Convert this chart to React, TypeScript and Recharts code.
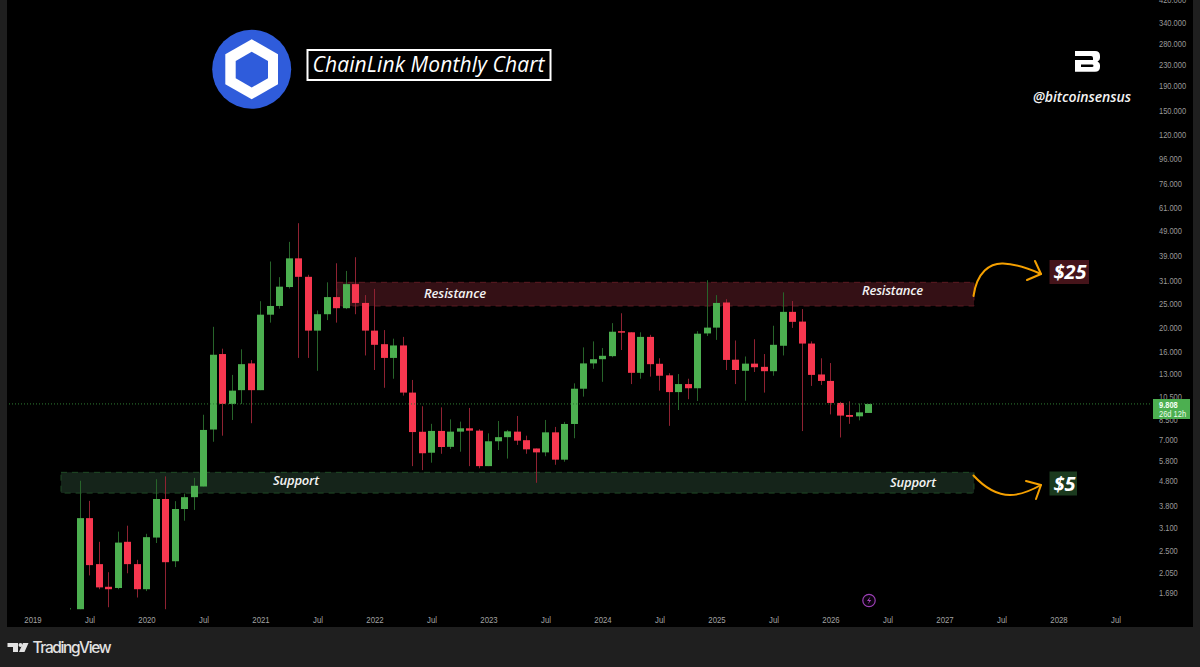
import { Bar, ComposedChart, ReferenceArea, ReferenceLine, XAxis, YAxis } from 'recharts';

// monthly candles, first one is May 2019 (month 4 counted from Jan 2019)
// May 2019 body sits below the visible price range, only its wick top shows
const firstMonth = 4;
const opens = [
  1.4, 1.45, 3.39, 2.21, 1.79, 1.77, 2.72, 2.21, 1.75, 2.83, 4.05, 2.27, 3.69, 4.12, 4.55, 7.73, 15.6, 9.81, 11.15, 14.3, 11.15, 22.5, 24.4, 29.1,
  38.0, 32.0, 19.4, 22.6, 26.5, 23.9, 29.9, 25.1, 19.4, 17.1, 15.05, 16.9, 10.9, 7.57, 6.23, 7.63, 6.58, 7.58, 7.82, 7.65,
  5.5, 6.93, 7.2, 7.58, 7.0, 6.48, 6.25, 7.53, 5.84, 8.14, 11.3, 14.3, 14.87, 15.3, 19.3, 19.1, 13.1, 18.3, 14.25, 12.8, 10.95, 11.8, 11.35, 18.9,
  19.95, 25.2, 14.8, 13.35, 14.27, 13.85, 13.3, 16.85, 23.1, 21.1, 17.2, 12.9, 12.15, 9.9, 8.85, 8.74, 9.02,
];
const highs = [
  1.47, 4.8, 3.98, 2.72, 2.05, 2.99, 3.16, 2.3, 2.93, 4.87, 5.0, 3.97, 4.26, 4.93, 8.87, 20.1, 16.4, 12.85, 16.3, 14.75, 25.5, 36.9, 31.9, 44.3,
  52.7, 32.6, 23.4, 30.4, 36.3, 33.8, 38.4, 27.0, 28.6, 19.5, 18.0, 18.3, 12.26, 9.6, 8.15, 9.5, 8.5, 8.32, 9.45, 7.75,
  7.46, 8.37, 7.7, 8.77, 7.3, 6.48, 8.45, 7.92, 8.3, 11.88, 16.6, 17.55, 16.5, 20.8, 22.8, 19.1, 19.1, 18.65, 15.0, 13.05, 12.95, 12.4, 19.3, 31.0,
  27.0, 26.0, 17.7, 15.25, 17.9, 15.6, 20.3, 27.7, 25.55, 23.7, 17.55, 15.0, 14.35, 10.0, 10.05, 9.85, 9.808,
];
const lows = [
  1.38, 1.45, 1.99, 1.75, 1.48, 1.75, 2.03, 1.62, 1.72, 2.69, 1.45, 2.15, 3.31, 3.66, 4.55, 6.9, 7.3, 8.45, 9.81, 8.2, 11.15, 20.9, 23.8, 28.7,
  15.05, 15.05, 13.35, 21.4, 20.9, 23.7, 22.6, 15.4, 13.45, 11.4, 12.4, 10.6, 5.5, 5.3, 5.68, 6.17, 6.45, 6.29, 5.5, 5.39,
  5.5, 6.39, 5.9, 6.7, 6.17, 4.71, 6.03, 5.57, 5.73, 7.13, 10.5, 13.6, 12.05, 15.15, 16.2, 11.8, 12.4, 12.65, 11.1, 8.0, 9.27, 10.25, 10.08, 18.45,
  17.8, 13.45, 11.8, 10.1, 13.2, 10.9, 12.75, 15.4, 19.9, 7.62, 11.6, 11.7, 8.9, 7.18, 8.15, 8.42, 9.02,
];
const closes = [
  1.43, 3.39, 2.19, 1.78, 1.75, 2.7, 2.21, 1.75, 2.84, 4.05, 2.25, 3.69, 4.12, 4.58, 7.7, 15.5, 9.81, 11.1, 14.2, 11.15, 22.5, 24.4, 29.2, 38.0,
  32.0, 19.4, 22.6, 26.5, 23.9, 29.9, 25.1, 19.4, 17.0, 15.05, 16.9, 10.9, 7.55, 6.2, 7.63, 6.57, 7.58, 7.82, 7.65, 5.5,
  6.93, 7.2, 7.6, 6.97, 6.43, 6.25, 7.53, 5.84, 8.14, 11.3, 14.3, 14.87, 15.35, 19.2, 19.1, 13.1, 18.3, 14.2, 12.75, 10.95, 11.8, 11.35, 18.85, 19.95,
  25.1, 14.77, 13.45, 14.27, 13.8, 13.3, 17.0, 23.1, 21.05, 17.2, 12.85, 12.15, 9.9, 8.8, 8.7, 9.07, 9.808,
];

const priceTicks = [420, 340, 280, 230, 190, 150, 120, 96, 76, 61, 49, 39, 31, 25, 20, 16, 13, 10.5, 8.5, 7, 5.8, 4.8, 3.8, 3.1, 2.5, 2.05, 1.69];
const timeTicks = [0, 6, 12, 18, 24, 30, 36, 42, 48, 54, 60, 66, 72, 78, 84, 90, 96, 102, 108, 114];
const timeLabels = ['2019', 'Jul', '2020', 'Jul', '2021', 'Jul', '2022', 'Jul', '2023', 'Jul', '2024', 'Jul', '2025', 'Jul', '2026', 'Jul', '2027', 'Jul', '2028', 'Jul'];
const lastPrice = 9.808;

const UP = '#4CAF50';
const DOWN = '#F7374F';
const UP_WICK = '#27642a';
const DOWN_WICK = '#8f2232';

const candles = opens.map((open, i) => ({
  month: firstMonth + i,
  open,
  high: highs[i],
  low: lows[i],
  close: closes[i],
  body: [Math.min(open, closes[i]), Math.max(open, closes[i])],
  wick: [lows[i], highs[i]],
}));

const WickShape = (props: any) => (
  <rect
    x={Math.round(props.x + props.width / 2 - 0.5)}
    y={props.y}
    width={1}
    height={props.height}
    fill={props.payload.close >= props.payload.open ? UP_WICK : DOWN_WICK}
  />
);

const BodyShape = (props: any) => (
  <rect
    x={Math.round(props.x)}
    y={props.y}
    width={7}
    height={Math.max(props.height, 1.5)}
    fill={props.payload.close >= props.payload.open ? UP : DOWN}
  />
);

// tradingview's axis font is narrower than anything installed, so squeeze it a bit
const squeezed = { fontFamily: '"Liberation Sans"', fontSize: 9.5 };

const PriceTick = ({ x, y, payload }: any) => (
  <text transform={`translate(${x} ${y + 3.3}) scale(0.79 1)`} textAnchor="start" fill="#9a9a9a" style={squeezed}>
    {payload.value.toFixed(3)}
  </text>
);

const TimeTick = ({ x, y, payload }: any) => (
  <text transform={`translate(${x} ${y + 7}) scale(0.82 1)`} textAnchor="middle" fill="#a3a3a3" style={squeezed}>
    {timeLabels[timeTicks.indexOf(payload.value)]}
  </text>
);

const noteStyle = { fontFamily: '"Open Sans"', fontStyle: 'italic', fontWeight: 600, fontSize: 13, fill: '#f2f2f2' };

function Overlay() {
  return (
    <svg width={1200} height={667} style={{ position: 'absolute', left: 0, top: 0, pointerEvents: 'none' }}>
      {/* logo */}
      <circle cx={251.7} cy={69.3} r={39.5} fill="#2f5cdb" />
      <polygon points="251.7,39.3 278,54.3 278,84.3 251.7,99.3 225.3,84.3 225.3,54.3" fill="#fff" />
      <polygon points="251.7,51.7 268,61 268,78.3 251.7,87.5 235.7,78.3 235.7,61" fill="#2f5cdb" />

      {/* title */}
      <rect x={307.5} y={50} width={243} height={30} fill="#000" stroke="#fff" strokeWidth={2} />
      <text x={312.5} y={72} textLength={232} style={{ fontFamily: '"Open Sans"', fontStyle: 'italic', fontSize: 21, fill: '#fff' }}>
        ChainLink Monthly Chart
      </text>

      {/* brand mark */}
      <path
        d="M1075 51 H1095 Q1100 51 1100 56 V58 Q1100 60.5 1097.5 61.5 Q1100 62.5 1100 65 V67 Q1100 71.7 1095 71.7 H1075 V60 H1093 V58 Q1093 56 1091 56 H1075 Z M1081 64.5 V67 H1092 Q1093.5 67 1093.5 65.7 Q1093.5 64.5 1092 64.5 Z"
        fill="#fff"
        fillRule="evenodd"
      />
      <text x={1033} y={102} textLength={98} style={{ fontFamily: '"Open Sans"', fontStyle: 'italic', fontWeight: 600, fontSize: 14, fill: '#f2f2f2' }}>
        @bitcoinsensus
      </text>

      {/* zone notes */}
      <text x={424} y={298} textLength={62} style={noteStyle}>Resistance</text>
      <text x={862} y={295} textLength={61} style={noteStyle}>Resistance</text>
      <text x={273} y={485} textLength={46} style={noteStyle}>Support</text>
      <text x={890} y={487} textLength={46} style={noteStyle}>Support</text>

      {/* arrows */}
      <g fill="none" stroke="#f5a000" strokeWidth={2} strokeLinecap="round" strokeLinejoin="round">
        <path d="M973.5 296 C977 272 990 263 1003 263.5 C1017 264 1030 269 1041 274" />
        <path d="M1035 261 L1041 274 L1027 280" />
        <path d="M973.5 475.5 C985 488 998 495 1010 495 C1022 495 1032 490 1041 485" />
        <path d="M1026 481 L1041 485 L1036 499" />
      </g>

      {/* price targets */}
      <rect x={1049.5} y={260} width={39.5} height={24} fill="#45141a" />
      <text x={1053.5} y={279} style={{ fontFamily: '"Open Sans"', fontStyle: 'italic', fontWeight: 700, fontSize: 20, fill: '#fff' }}>$25</text>
      <rect x={1049.5} y={471.5} width={27.5} height={24} fill="#1b3a1e" />
      <text x={1053.5} y={491} style={{ fontFamily: '"Open Sans"', fontStyle: 'italic', fontWeight: 700, fontSize: 20, fill: '#fff' }}>$5</text>

      {/* bolt marker */}
      <circle cx={869} cy={600.5} r={6.2} fill="#0c030f" stroke="#9c3fb5" strokeWidth={1.2} />
      <path d="M870.5 596.5 L867 601 H869.3 L867.8 604.5 L871.2 600 H869 Z" fill="#a848c0" />

      {/* last price tag */}
      <rect x={1153} y={399} width={37} height={20} fill="#4CAF50" />
      <text transform="translate(1159 407.8) scale(0.79 1)" fill="#f4fff4" fontWeight={700} style={squeezed}>9.808</text>
      <text transform="translate(1159 417) scale(0.79 1)" fill="#eafbea" style={squeezed}>26d 12h</text>

      {/* footer logo */}
      <path d="M7.5 643 H18 V652 H13 V647 H7.5 Z" fill="#e2e2e2" />
      <circle cx={20.5} cy={645} r={2} fill="#e2e2e2" />
      <path d="M23 643 H28.5 L24.5 652 H19 Z" fill="#e2e2e2" />
      <text x={32.5} y={653} textLength={79} style={{ fontFamily: 'Inter', fontWeight: 500, fontSize: 15.5, fill: '#e2e2e2' }}>
        TradingView
      </text>
    </svg>
  );
}

export default function App() {
  return (
    <div style={{ position: 'fixed', left: 0, top: 0, width: 1200, height: 667, background: '#1f1f1f', overflow: 'hidden' }}>
      <div style={{ position: 'absolute', left: 7, top: 0, width: 1186, height: 627, background: '#000' }} />
      <div style={{ position: 'absolute', left: 0, top: 0 }}>
        <ComposedChart width={1200} height={667} data={candles} margin={{ top: 0, right: 0, bottom: 42.5, left: 7 }}>
          <XAxis
            xAxisId="body"
            dataKey="month"
            type="number"
            domain={[-2.737, 117.58]}
            allowDataOverflow
            ticks={timeTicks}
            interval={0}
            axisLine={false}
            tickLine={false}
            height={15}
            tickMargin={0}
            tick={TimeTick}
          />
          <XAxis xAxisId="wick" dataKey="month" type="number" domain={[-2.737, 117.58]} allowDataOverflow hide />
          <YAxis
            yAxisId="price"
            orientation="right"
            scale="log"
            domain={[1.449, 420.3]}
            allowDataOverflow
            ticks={priceTicks}
            interval={0}
            axisLine={false}
            tickLine={false}
            width={50}
            tickMargin={3}
            tick={PriceTick}
          />
          <ReferenceArea xAxisId="body" yAxisId="price" x1={2.95} x2={99.05} y1={4.28} y2={5.19} fill="#15241a" fillOpacity={1} stroke="#1f4a25" strokeDasharray="6 5" />
          <ReferenceArea xAxisId="body" yAxisId="price" x1={32} x2={99.05} y1={24.4} y2={30.4} fill="#341015" fillOpacity={1} stroke="#5c1a22" strokeDasharray="6 5" />
          <ReferenceLine xAxisId="body" yAxisId="price" y={lastPrice} stroke="#2e7d32" strokeDasharray="1 2" />
          <Bar xAxisId="wick" yAxisId="price" dataKey="wick" barSize={7} shape={WickShape} isAnimationActive={false} />
          <Bar xAxisId="body" yAxisId="price" dataKey="body" barSize={7} shape={BodyShape} isAnimationActive={false} />
        </ComposedChart>
      </div>
      <Overlay />
    </div>
  );
}
